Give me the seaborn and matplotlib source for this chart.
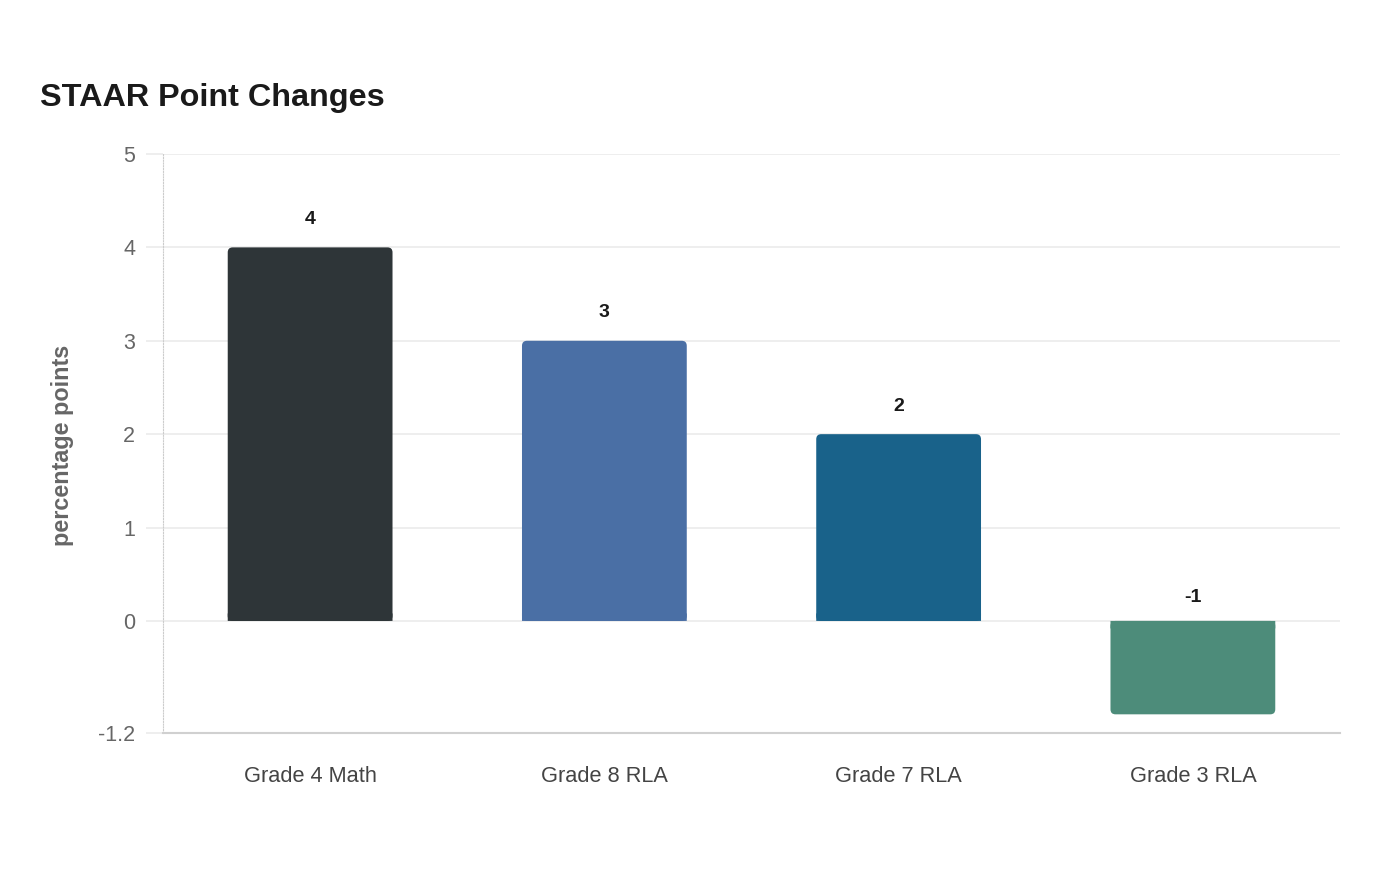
import matplotlib
matplotlib.use("Agg")
import matplotlib.pyplot as plt
import seaborn as sns
import pandas as pd
from matplotlib.patches import FancyBboxPatch

categories = ["Grade 4 Math", "Grade 8 RLA", "Grade 7 RLA", "Grade 3 RLA"]
values = [4, 3, 2, -1]
colors = ["#2e3538", "#4a6fa5", "#19628a", "#4d8c7a"]
y_ticks = [-1.2, 0, 1, 2, 3, 4, 5]
y_tick_labels = ["-1.2", "0", "1", "2", "3", "4", "5"]
title = "STAAR Point Changes"
y_label = "percentage points"

sns.set_theme(style="white")
plt.rcParams['font.family'] = ['Liberation Sans', 'DejaVu Sans']

df = pd.DataFrame({"category": categories, "value": values})

fig = plt.figure(figsize=(14, 8.8), dpi=100)
ax = fig.add_axes([163/1400, 1-733/880, (1340-163)/1400, (733-154)/880])

sns.barplot(data=df, x="category", y="value", hue="category", palette=colors,
            legend=False, width=0.56, ax=ax, saturation=1, zorder=3)

ax.set_xlim(-0.5, len(categories) - 0.5)
ax.set_ylim(-1.2, 5)

# rounded corners on the outer end of bars
r_px = 5
inv = ax.transData.inverted()
(dx0, dy0) = inv.transform((0, 0))
(dx1, dy1) = inv.transform((r_px, r_px))
rx, ry = abs(dx1 - dx0), abs(dy1 - dy0)
for p in list(ax.patches):
    x0, y0 = p.get_x(), p.get_y()
    w, h = p.get_width(), p.get_height()
    fc = p.get_facecolor()
    p.set_visible(False)
    ybot, ytop = min(y0, y0 + h), max(y0, y0 + h)
    fb = FancyBboxPatch((x0, ybot), w, ytop - ybot,
                        boxstyle=f"round,pad=0,rounding_size={rx}",
                        mutation_aspect=ry / rx, facecolor=fc, edgecolor="none",
                        zorder=3, snap=False, linewidth=0)
    ax.add_patch(fb)
    sq_h = min(ry * 1.5, ytop - ybot)
    if h >= 0:
        sq = plt.Rectangle((x0, ybot), w, sq_h)
    else:
        sq = plt.Rectangle((x0, ytop - sq_h), w, sq_h)
    sq.set(facecolor=fc, edgecolor="none", zorder=3, snap=False, linewidth=0)
    ax.add_patch(sq)

for i, v in enumerate(values):
    ax.annotate(f"{v}", xy=(i, max(v, 0)), xytext=(0, 14 if v >= 0 else 11),
                textcoords="offset points",
                ha="center", va="bottom", fontsize=14, fontweight="bold", color="#1a1a1a")

ax.set_yticks(y_ticks)
ax.set_yticklabels(y_tick_labels)
ax.yaxis.grid(True, color="#ebebeb", linewidth=1.2, zorder=0)
ax.set_axisbelow(True)

ax.tick_params(axis="y", length=12, width=1.2, color="#ebebeb", pad=8,
               labelsize=15.5, labelcolor="#666666", left=True)
ax.tick_params(axis="x", length=0, pad=24, labelsize=15.7, labelcolor="#444444")

ax.set_xlabel("")
ax.set_ylabel("")

for s in ["top", "right"]:
    ax.spines[s].set_visible(False)
ax.spines["bottom"].set_color("#d0d0d0")
ax.spines["bottom"].set_linewidth(1.5)
ax.spines["left"].set_color("#cccccc")
ax.spines["left"].set_linestyle((0, (1, 1.5)))
ax.spines["left"].set_linewidth(0.8)

fig.text(40/1400, 1-106/880, title, fontsize=23.3, fontweight="bold", color="#1a1a1a",
         ha="left", va="baseline")
fig.text(63/1400, 1-445/880, y_label, fontsize=16.8, fontweight="bold", color="#666666",
         rotation=90, ha="center", va="center")

fig.savefig("out.png", dpi=100, facecolor="white")
